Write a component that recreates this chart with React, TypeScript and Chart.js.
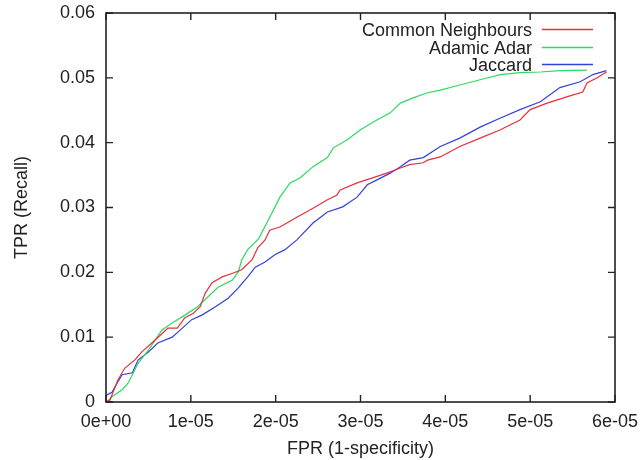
import React, { useEffect, useRef } from "react";
import { Chart, registerables } from "chart.js";

Chart.register(...registerables);

// Common Neighbours (red)
const cnFpr = [0, 0.047e-5, 0.14e-5, 0.22e-5, 0.34e-5, 0.42e-5, 0.54e-5, 0.64e-5, 0.73e-5, 0.84e-5, 0.93e-5, 1.03e-5, 1.11e-5, 1.17e-5, 1.25e-5, 1.37e-5, 1.50e-5, 1.60e-5, 1.72e-5, 1.79e-5, 1.875e-5, 1.93e-5, 2.05e-5, 2.25e-5, 2.44e-5, 2.61e-5, 2.72e-5, 2.76e-5, 2.96e-5, 3.15e-5, 3.31e-5, 3.47e-5, 3.58e-5, 3.74e-5, 3.79e-5, 3.94e-5, 4.17e-5, 4.41e-5, 4.65e-5, 4.88e-5, 5.0e-5, 5.20e-5, 5.44e-5, 5.62e-5, 5.67e-5, 5.79e-5, 5.90e-5];
const cnTpr = [0, 0.0003, 0.0034, 0.0052, 0.0065, 0.0077, 0.0091, 0.0103, 0.0114, 0.0114, 0.0130, 0.0137, 0.0147, 0.0168, 0.0184, 0.0193, 0.0199, 0.0204, 0.0219, 0.0238, 0.0250, 0.0265, 0.0270, 0.0285, 0.0299, 0.0312, 0.0319, 0.0327, 0.0338, 0.0346, 0.0353, 0.0361, 0.0366, 0.0369, 0.0373, 0.0378, 0.0394, 0.0407, 0.0420, 0.0435, 0.0451, 0.0461, 0.0471, 0.0478, 0.0492, 0.0500, 0.0509];

// Adamic Adar (green)
const aaFpr = [0.01e-5, 0.07e-5, 0.19e-5, 0.26e-5, 0.31e-5, 0.38e-5, 0.50e-5, 0.66e-5, 0.78e-5, 0.93e-5, 1.08e-5, 1.20e-5, 1.32e-5, 1.49e-5, 1.56e-5, 1.60e-5, 1.67e-5, 1.80e-5, 1.93e-5, 2.05e-5, 2.17e-5, 2.29e-5, 2.44e-5, 2.61e-5, 2.68e-5, 2.84e-5, 3.0e-5, 3.15e-5, 3.35e-5, 3.47e-5, 3.62e-5, 3.79e-5, 3.94e-5, 4.17e-5, 4.41e-5, 4.65e-5, 4.88e-5, 5.12e-5, 5.35e-5, 5.67e-5];
const aaTpr = [0, 0.0008, 0.0019, 0.0029, 0.0042, 0.0060, 0.0080, 0.0111, 0.0122, 0.0134, 0.0147, 0.0162, 0.0177, 0.0188, 0.0201, 0.0219, 0.0235, 0.0252, 0.0285, 0.0316, 0.0338, 0.0346, 0.0363, 0.0377, 0.0392, 0.0404, 0.0420, 0.0432, 0.0446, 0.0461, 0.0469, 0.0477, 0.0481, 0.0489, 0.0497, 0.0505, 0.0508, 0.0509, 0.0511, 0.0512];

// Jaccard (blue)
const jcFpr = [0.01e-5, 0.07e-5, 0.13e-5, 0.19e-5, 0.31e-5, 0.38e-5, 0.50e-5, 0.61e-5, 0.78e-5, 0.90e-5, 1.01e-5, 1.13e-5, 1.29e-5, 1.44e-5, 1.56e-5, 1.67e-5, 1.76e-5, 1.875e-5, 1.99e-5, 2.11e-5, 2.25e-5, 2.44e-5, 2.61e-5, 2.79e-5, 2.96e-5, 3.08e-5, 3.20e-5, 3.35e-5, 3.47e-5, 3.58e-5, 3.74e-5, 3.94e-5, 4.17e-5, 4.41e-5, 4.65e-5, 4.88e-5, 5.12e-5, 5.35e-5, 5.59e-5, 5.74e-5, 5.90e-5];
const jcTpr = [0.0011, 0.0015, 0.0029, 0.0042, 0.0045, 0.0065, 0.0077, 0.0091, 0.0100, 0.0114, 0.0127, 0.0134, 0.0147, 0.0160, 0.0176, 0.0193, 0.0208, 0.0216, 0.0227, 0.0235, 0.0250, 0.0276, 0.0293, 0.0301, 0.0316, 0.0335, 0.0343, 0.0353, 0.0363, 0.0373, 0.0377, 0.0394, 0.0407, 0.0424, 0.0438, 0.0451, 0.0463, 0.0485, 0.0494, 0.0505, 0.0511];

const seriesNames = ["Common Neighbours", "Adamic Adar", "Jaccard"];
const seriesColors = ["#e3323c", "#2fd862", "#3442d4"];

const xTickValues = [0, 1e-5, 2e-5, 3e-5, 4e-5, 5e-5, 6e-5];
const xTickLabels = ["0e+00", "1e-05", "2e-05", "3e-05", "4e-05", "5e-05", "6e-05"];
const yTickValues = [0, 0.01, 0.02, 0.03, 0.04, 0.05, 0.06];
const yTickLabels = ["0", "0.01", "0.02", "0.03", "0.04", "0.05", "0.06"];

const FONT = "'Liberation Sans', Arial, Helvetica, sans-serif";
const INK = "#222222";

const toPoints = (xs: number[], ys: number[]) => xs.map((x, i) => ({ x, y: ys[i] }));

const framePlugin = {
  id: "gnuFrame",
  afterDatasetsDraw(chart: any) {
    const { ctx, chartArea } = chart;
    const { left, right, top, bottom } = chartArea;
    const xs = chart.scales.x;
    const ys = chart.scales.y;
    const tl = 7;
    ctx.save();
    ctx.strokeStyle = INK;
    ctx.lineWidth = 1.4;
    ctx.beginPath();
    xs.ticks.forEach((t: any) => {
      const px = xs.getPixelForValue(t.value);
      ctx.moveTo(px, bottom);
      ctx.lineTo(px, bottom - tl);
      ctx.moveTo(px, top);
      ctx.lineTo(px, top + tl);
    });
    ys.ticks.forEach((t: any) => {
      const py = ys.getPixelForValue(t.value);
      ctx.moveTo(left, py);
      ctx.lineTo(left + tl, py);
      ctx.moveTo(right, py);
      ctx.lineTo(right - tl, py);
    });
    ctx.stroke();
    ctx.lineWidth = 1.6;
    ctx.strokeRect(left, top, right - left, bottom - top);
    ctx.restore();
  },
  afterDraw(chart: any) {
    const { ctx } = chart;
    const rows = [29.5, 47.5, 64.5];
    ctx.save();
    ctx.font = `18px ${FONT}`;
    ctx.textAlign = "right";
    ctx.textBaseline = "middle";
    chart.data.datasets.forEach((ds: any, i: number) => {
      const y = rows[i];
      ctx.fillStyle = INK;
      ctx.fillText(ds.label, 532, y + 1.5);
      ctx.strokeStyle = ds.borderColor;
      ctx.lineWidth = 1.3;
      ctx.beginPath();
      ctx.moveTo(542, y);
      ctx.lineTo(593, y);
      ctx.stroke();
    });
    ctx.restore();
  },
};

export default function App() {
  const ref = useRef<HTMLCanvasElement | null>(null);

  useEffect(() => {
    if (!ref.current) return;
    const chart = new Chart(ref.current, {
      type: "line",
      data: {
        datasets: [
          { label: seriesNames[0], data: toPoints(cnFpr, cnTpr), borderColor: seriesColors[0] },
          { label: seriesNames[1], data: toPoints(aaFpr, aaTpr), borderColor: seriesColors[1] },
          { label: seriesNames[2], data: toPoints(jcFpr, jcTpr), borderColor: seriesColors[2] },
        ].map((d) => ({ ...d, borderWidth: 1.2, pointRadius: 0, tension: 0, fill: false })),
      },
      options: {
        animation: false,
        responsive: false,
        devicePixelRatio: 1,
        layout: { padding: { left: 0, right: 25, top: 13, bottom: 0 } },
        plugins: { legend: { display: false }, tooltip: { enabled: false } },
        scales: {
          x: {
            type: "linear",
            min: 0,
            max: 6e-5,
            afterBuildTicks: (s: any) => {
              s.ticks = xTickValues.map((v) => ({ value: v }));
            },
            afterFit: (s: any) => {
              s.height = 58;
            },
            grid: { drawOnChartArea: false, drawTicks: true, tickLength: 9, color: "rgba(0,0,0,0)" },
            border: { display: false },
            ticks: {
              padding: 0,
              maxRotation: 0,
              autoSkip: false,
              color: INK,
              font: { family: FONT, size: 18 },
              callback: (_v: any, i: number) => xTickLabels[i],
            },
            title: {
              display: true,
              text: "FPR (1-specificity)",
              color: INK,
              font: { family: FONT, size: 18 },
              padding: { top: 0, bottom: 0 },
            },
          },
          y: {
            type: "linear",
            min: 0,
            max: 0.06,
            afterBuildTicks: (s: any) => {
              s.ticks = yTickValues.map((v) => ({ value: v }));
            },
            afterFit: (s: any) => {
              s.width = 106;
            },
            grid: { drawOnChartArea: false, drawTicks: true, tickLength: 11, color: "rgba(0,0,0,0)" },
            border: { display: false },
            ticks: {
              padding: 0,
              autoSkip: false,
              color: INK,
              font: { family: FONT, size: 18 },
              callback: (_v: any, i: number) => yTickLabels[i],
            },
            title: {
              display: true,
              text: "TPR (Recall)",
              color: INK,
              font: { family: FONT, size: 18 },
              padding: { top: 11, bottom: 0 },
            },
          },
        },
      },
      plugins: [framePlugin],
    } as any);
    return () => chart.destroy();
  }, []);

  return (
    <div style={{ position: "fixed", left: 0, top: 0, width: 640, height: 460, background: "#fff" }}>
      <canvas ref={ref} width={640} height={460} style={{ width: 640, height: 460 }} />
    </div>
  );
}
